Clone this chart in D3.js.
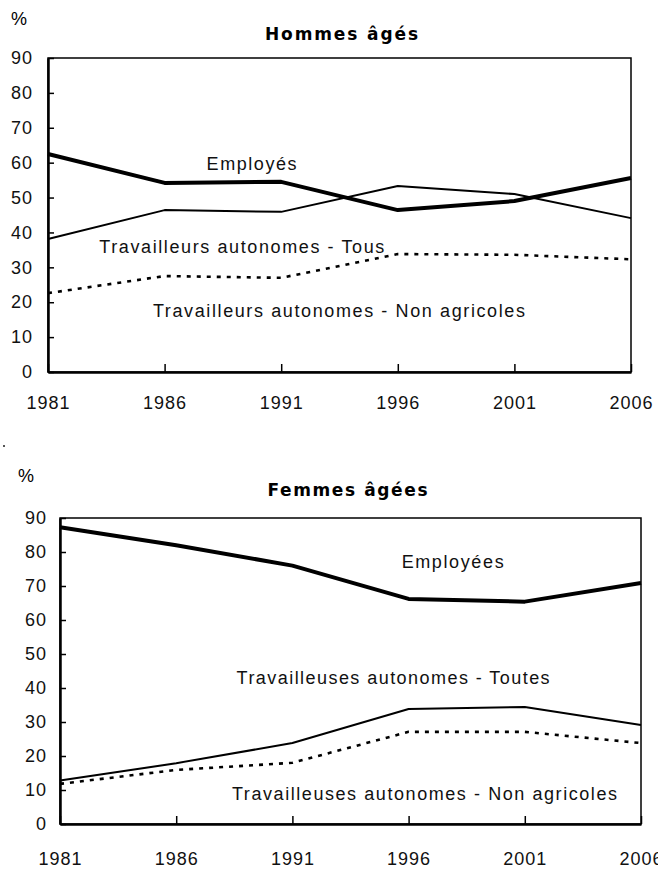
<!DOCTYPE html>
<html>
<head>
<meta charset="utf-8">
<script src="https://cdn.jsdelivr.net/npm/d3@7"></script>
<style>
  body { margin: 0; background: #fff; }
  svg { display: block; font-family: 'Liberation Sans', Arial, sans-serif; }
  .tick text { font-size: 18px; fill: #111; font-weight: normal; letter-spacing: 1px; }
  .series-label { font-size: 18px; fill: #111; }
  .panel-title { font-family: 'DejaVu Sans', sans-serif; font-size: 17px; font-weight: bold; }
</style>
</head>
<body>
<svg id="chart"></svg>
<script>
// data
const years = [1981, 1986, 1991, 1996, 2001, 2006];
const yTicks = [0, 10, 20, 30, 40, 50, 60, 70, 80, 90];

const menEmployed = [62.5, 54.2, 54.5, 46.4, 49.0, 55.6];
const menSelfAll = [38.1, 46.4, 45.9, 53.3, 51.0, 44.1];
const menSelfNonAg = [22.6, 27.5, 27.0, 33.8, 33.6, 32.3];

const womenEmployed = [87.3, 82.0, 76.0, 66.2, 65.4, 70.9];
const womenSelfAll = [12.8, 17.9, 23.8, 33.8, 34.4, 29.1];
const womenSelfNonAg = [11.8, 15.9, 18.0, 27.1, 27.1, 23.8];

const menLabels = ['Employés', 'Travailleurs autonomes - Tous', 'Travailleurs autonomes - Non agricoles'];
const womenLabels = ['Employées', 'Travailleuses autonomes - Toutes', 'Travailleuses autonomes - Non agricoles'];

const lineStyles = [
  { width: 4, dash: null },
  { width: 2, dash: null },
  { width: 2.6, dash: '4,6' }
];

const svg = d3.select('#chart')
  .attr('width', 658)
  .attr('height', 869);

// tiny stray dot between the two panels
svg.append('rect').attr('x', 3).attr('y', 445).attr('width', 2).attr('height', 2).attr('fill', '#555');

function drawPanel(cfg) {
  const g = svg.append('g');

  const x = d3.scaleLinear().domain([1981, 2006]).range([cfg.left, cfg.right]);
  const y = d3.scaleLinear().domain([0, 90]).range([cfg.bottom, cfg.top]);

  // % unit and title
  g.append('text')
    .attr('x', cfg.pctX).attr('y', cfg.pctY)
    .attr('font-size', 18)
    .text('%');

  g.append('text')
    .attr('class', 'panel-title')
    .attr('x', (cfg.left + cfg.right) / 2 + cfg.titleShift)
    .attr('y', cfg.titleY)
    .attr('text-anchor', 'middle')
    .attr('textLength', cfg.titleLen)
    .attr('lengthAdjust', 'spacing')
    .text(cfg.title);

  // frame
  g.append('rect')
    .attr('x', cfg.left).attr('y', cfg.top)
    .attr('width', cfg.right - cfg.left)
    .attr('height', cfg.bottom - cfg.top)
    .attr('fill', 'none')
    .attr('stroke', '#000')
    .attr('stroke-width', 1.5);

  const yAxis = g.append('g')
    .attr('transform', `translate(${cfg.left},0)`)
    .call(d3.axisLeft(y).tickValues(yTicks).tickSizeInner(-6).tickSizeOuter(0).tickPadding(cfg.yPad));
  yAxis.select('.domain').attr('stroke-width', 2.5);
  yAxis.selectAll('.tick line').attr('stroke-width', 1.5);

  const xAxis = g.append('g')
    .attr('transform', `translate(0,${cfg.bottom})`)
    .call(d3.axisBottom(x).tickValues(years).tickFormat(d3.format('d')).tickSizeInner(-8).tickSizeOuter(0).tickPadding(cfg.xPad));
  xAxis.select('.domain').attr('stroke-width', 2.5);
  xAxis.selectAll('.tick line').attr('stroke-width', 1.5);
  yAxis.attr('font-family', 'Liberation Sans');
  xAxis.attr('font-family', 'Liberation Sans');

  // lines
  const line = d3.line()
    .x((d, i) => x(years[i]))
    .y(d => y(d));

  cfg.series.forEach((values, i) => {
    g.append('path')
      .datum(values)
      .attr('d', line)
      .attr('fill', 'none')
      .attr('stroke', '#000')
      .attr('stroke-width', lineStyles[i].width)
      .attr('stroke-dasharray', lineStyles[i].dash)
      .attr('stroke-linejoin', 'round');
  });

  // in-chart labels, anchored in data units
  cfg.labels.forEach((lbl, i) => {
    const pos = cfg.labelPos[i];
    g.append('text')
      .attr('class', 'series-label')
      .attr('x', x(pos[0]))
      .attr('y', y(pos[1]))
      .attr('textLength', pos[2])
      .attr('lengthAdjust', 'spacing')
      .text(lbl);
  });
}

drawPanel({
  title: 'Hommes âgés',
  left: 48, right: 631, top: 58, bottom: 372,
  pctX: 11, pctY: 25,
  titleY: 40, titleShift: 2, titleLen: 153,
  yPad: 15, xPad: 24,
  series: [menEmployed, menSelfAll, menSelfNonAg],
  labels: menLabels,
  labelPos: [[1987.8, 57.9, 90], [1983.2, 34.1, 285], [1985.5, 15.8, 372]]
});

drawPanel({
  title: 'Femmes âgées',
  left: 60, right: 641, top: 518, bottom: 824,
  pctX: 18, pctY: 482,
  titleY: 496, titleShift: -3, titleLen: 160,
  yPad: 13, xPad: 28,
  series: [womenEmployed, womenSelfAll, womenSelfNonAg],
  labels: womenLabels,
  labelPos: [[1995.7, 75.3, 102], [1988.6, 41.2, 313], [1988.4, 7.1, 385]]
});
</script>
</body>
</html>
